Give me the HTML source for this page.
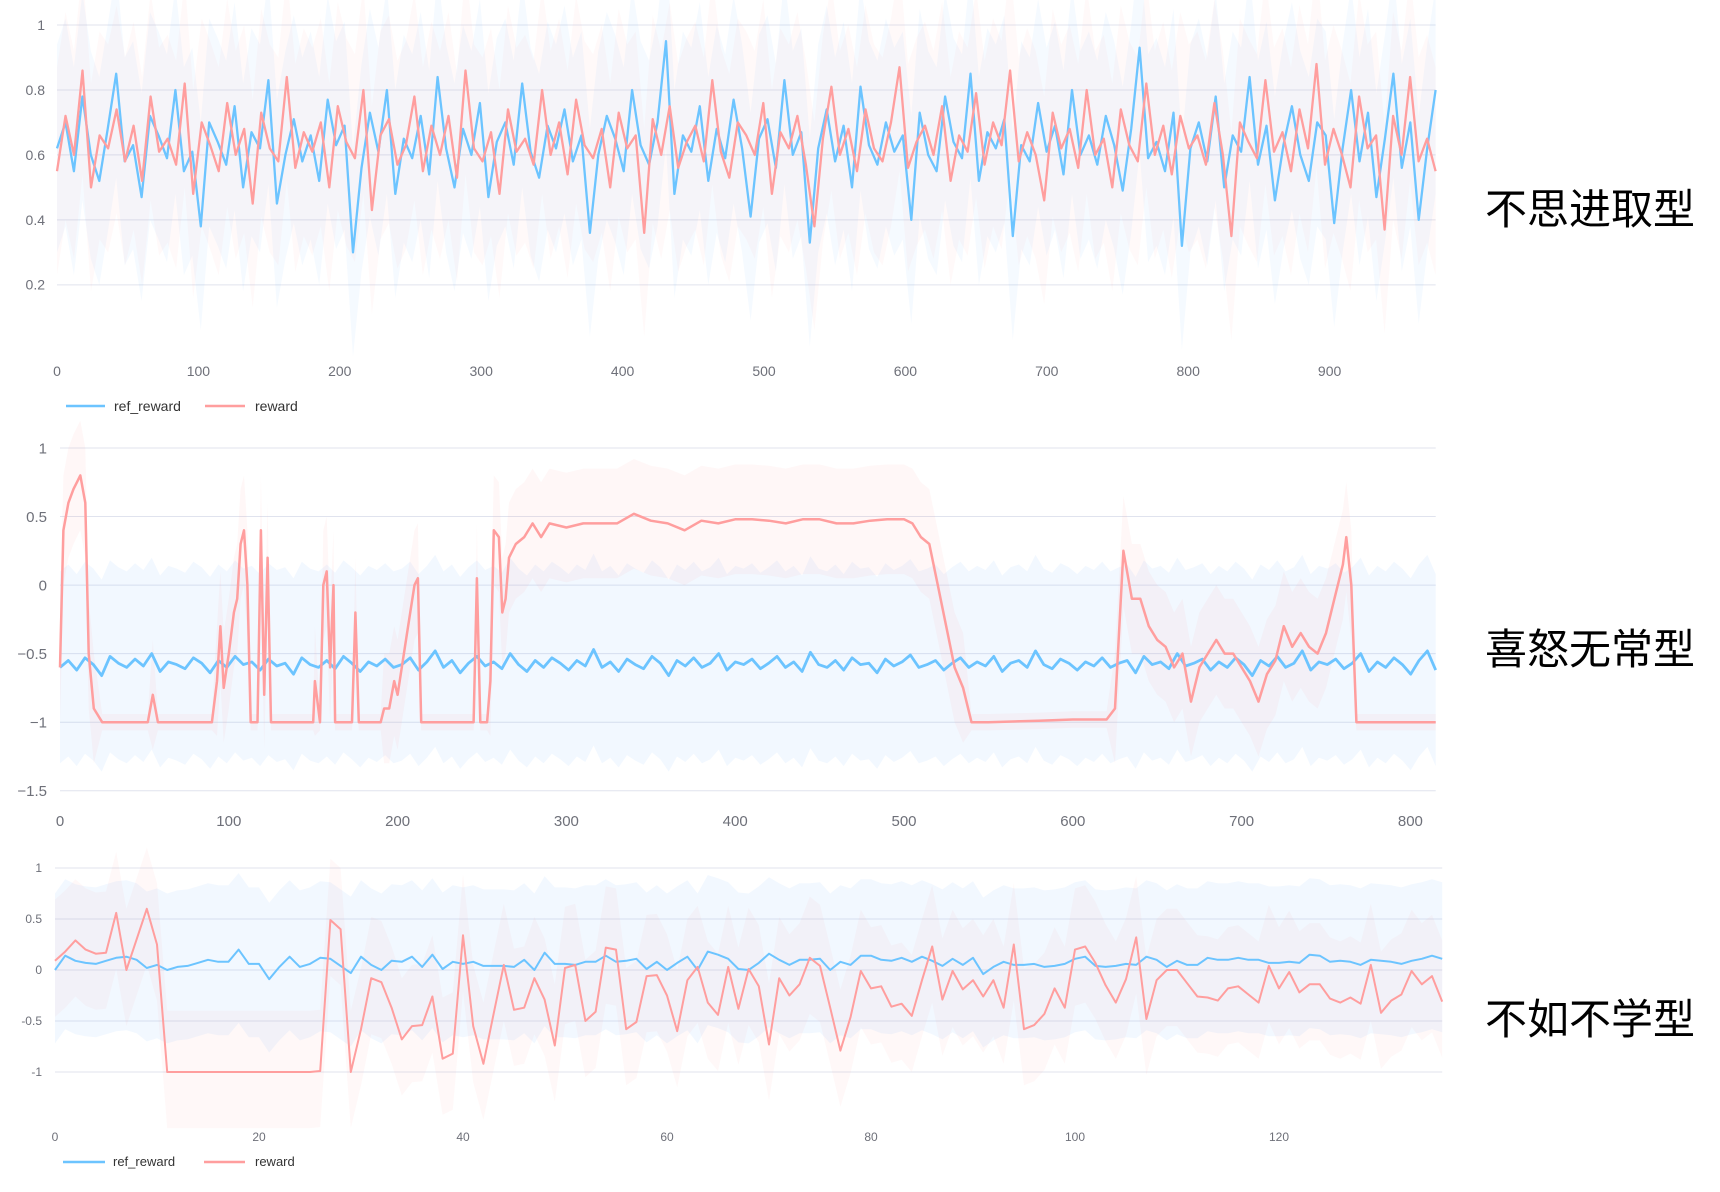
<!DOCTYPE html>
<html><head><meta charset="utf-8"><style>
html,body{margin:0;padding:0;background:#fff;}
svg{display:block;}
.tick{font-family:"Liberation Sans",sans-serif;fill:#6e7079;}
.side{font-family:"Liberation Sans","WenQuanYi Zen Hei","Noto Sans CJK SC",sans-serif;font-size:42px;fill:#000;}
.leg{font-family:"Liberation Sans",sans-serif;fill:#333;}
</style></head><body>
<svg id="root" width="1720" height="1192" viewBox="0 0 1720 1192" xmlns="http://www.w3.org/2000/svg">
<g id="c1"></g>
<g id="c2"></g>
<g id="c3"></g>
<text class="side" x="1485" y="224">不思进取型</text>
<text class="side" x="1485" y="664">喜怒无常型</text>
<text class="side" x="1485" y="1034">不如不学型</text>
<g>
<line x1="66" y1="406" x2="105" y2="406" stroke="#6cc4ff" stroke-width="2.5"/>
<text class="leg" x="114" y="411" font-size="14">ref_reward</text>
<line x1="205" y1="406" x2="245" y2="406" stroke="#ff9e9e" stroke-width="2.5"/>
<text class="leg" x="255" y="411" font-size="14">reward</text>
</g>
<g>
<line x1="63" y1="1162" x2="105" y2="1162" stroke="#6cc4ff" stroke-width="2.5"/>
<text class="leg" x="113" y="1166" font-size="13">ref_reward</text>
<line x1="204" y1="1162" x2="245" y2="1162" stroke="#ff9e9e" stroke-width="2.5"/>
<text class="leg" x="255" y="1166" font-size="13">reward</text>
</g>
</svg>
<script>
// ---- Chart 1 data (不思进取型) ----
const c1XMax = 975;
const c1YTicks = [1, 0.8, 0.6, 0.4, 0.2];
const c1YTickLabels = ["1", "0.8", "0.6", "0.4", "0.2"];
const c1XTicks = [0,100,200,300,400,500,600,700,800,900];
const c1Ref = [0.62,0.7,0.55,0.78,0.6,0.52,0.68,0.85,0.58,0.63,0.47,0.72,0.66,0.59,0.8,0.55,0.61,0.38,0.7,0.64,0.57,0.75,0.5,0.67,0.62,0.83,0.45,0.6,0.71,0.58,0.66,0.52,0.77,0.63,0.69,0.3,0.56,0.73,0.61,0.8,0.48,0.65,0.59,0.72,0.54,0.84,0.62,0.5,0.68,0.6,0.76,0.47,0.64,0.7,0.57,0.82,0.61,0.53,0.69,0.62,0.74,0.58,0.66,0.36,0.6,0.72,0.65,0.55,0.8,0.63,0.57,0.7,0.95,0.48,0.66,0.61,0.75,0.52,0.68,0.59,0.77,0.62,0.41,0.65,0.71,0.56,0.83,0.6,0.67,0.33,0.62,0.74,0.58,0.69,0.5,0.81,0.63,0.57,0.7,0.61,0.66,0.4,0.73,0.6,0.55,0.78,0.64,0.59,0.85,0.52,0.67,0.62,0.71,0.35,0.63,0.58,0.76,0.61,0.69,0.54,0.8,0.6,0.66,0.57,0.72,0.63,0.49,0.68,0.93,0.59,0.64,0.55,0.73,0.32,0.62,0.7,0.58,0.78,0.5,0.66,0.61,0.84,0.57,0.69,0.46,0.63,0.75,0.6,0.52,0.7,0.66,0.39,0.62,0.8,0.58,0.73,0.47,0.65,0.85,0.56,0.7,0.4,0.62,0.8];
const c1Reward = [0.55,0.72,0.6,0.86,0.5,0.66,0.62,0.74,0.58,0.69,0.52,0.78,0.61,0.65,0.57,0.82,0.48,0.7,0.63,0.55,0.76,0.6,0.68,0.45,0.73,0.62,0.58,0.84,0.56,0.67,0.61,0.7,0.5,0.75,0.64,0.59,0.8,0.43,0.66,0.71,0.57,0.63,0.78,0.55,0.69,0.6,0.72,0.53,0.86,0.62,0.58,0.67,0.48,0.74,0.61,0.65,0.57,0.8,0.6,0.7,0.54,0.77,0.63,0.59,0.68,0.5,0.73,0.62,0.66,0.36,0.71,0.6,0.75,0.56,0.64,0.69,0.58,0.83,0.61,0.53,0.7,0.66,0.6,0.76,0.48,0.67,0.62,0.72,0.57,0.38,0.65,0.81,0.6,0.68,0.55,0.74,0.62,0.58,0.7,0.87,0.56,0.64,0.69,0.6,0.75,0.52,0.66,0.61,0.79,0.57,0.7,0.63,0.86,0.58,0.67,0.6,0.46,0.73,0.62,0.68,0.56,0.8,0.6,0.65,0.5,0.74,0.63,0.58,0.82,0.6,0.69,0.54,0.72,0.62,0.66,0.57,0.76,0.6,0.35,0.7,0.64,0.59,0.83,0.61,0.67,0.55,0.74,0.62,0.88,0.57,0.68,0.6,0.5,0.78,0.62,0.66,0.37,0.72,0.6,0.84,0.58,0.65,0.55];

// ---- Chart 2 data (喜怒无常型) ----
const c2XMax = 815;
const c2YTicks = [1, 0.5, 0, -0.5, -1, -1.5];
const c2YTickLabels = ["1", "0.5", "0", "−0.5", "−1", "−1.5"];
const c2XTicks = [0,100,200,300,400,500,600,700,800];
const c2Ref = [-0.6,-0.55,-0.62,-0.53,-0.58,-0.66,-0.52,-0.57,-0.6,-0.54,-0.59,-0.5,-0.63,-0.56,-0.58,-0.61,-0.53,-0.57,-0.64,-0.55,-0.6,-0.52,-0.58,-0.56,-0.62,-0.54,-0.59,-0.57,-0.65,-0.53,-0.58,-0.6,-0.55,-0.61,-0.52,-0.57,-0.63,-0.56,-0.59,-0.54,-0.6,-0.58,-0.53,-0.62,-0.56,-0.48,-0.6,-0.55,-0.64,-0.57,-0.52,-0.59,-0.56,-0.61,-0.5,-0.58,-0.63,-0.55,-0.6,-0.53,-0.57,-0.62,-0.55,-0.59,-0.47,-0.6,-0.56,-0.63,-0.54,-0.58,-0.61,-0.52,-0.57,-0.66,-0.55,-0.59,-0.53,-0.6,-0.57,-0.5,-0.62,-0.56,-0.58,-0.54,-0.61,-0.57,-0.52,-0.6,-0.56,-0.63,-0.49,-0.58,-0.6,-0.55,-0.62,-0.53,-0.58,-0.57,-0.64,-0.54,-0.59,-0.56,-0.51,-0.6,-0.58,-0.55,-0.62,-0.57,-0.53,-0.6,-0.56,-0.59,-0.52,-0.63,-0.57,-0.55,-0.6,-0.48,-0.58,-0.61,-0.54,-0.57,-0.62,-0.56,-0.59,-0.53,-0.6,-0.57,-0.55,-0.64,-0.52,-0.58,-0.56,-0.61,-0.5,-0.59,-0.57,-0.54,-0.62,-0.56,-0.6,-0.53,-0.58,-0.66,-0.55,-0.59,-0.52,-0.6,-0.57,-0.48,-0.62,-0.56,-0.58,-0.54,-0.61,-0.57,-0.5,-0.63,-0.56,-0.6,-0.53,-0.58,-0.65,-0.55,-0.48,-0.62];
const c2RewardSteps = [0,2,5,8,10,12,15,17,20,25,50,52,55,58,90,93,95,97,100,103,105,107,109,111,113,117,119,121,123,125,150,151,154,156,158,160,162,163,173,175,177,190,192,195,198,200,205,210,212,214,245,247,249,253,255,257,260,262,264,266,270,275,280,285,290,300,310,320,330,340,350,360,370,380,390,400,410,420,430,440,450,460,470,480,490,500,505,510,515,520,525,530,535,540,550,580,600,620,625,630,635,640,645,650,655,660,665,670,675,680,685,690,695,700,705,710,715,720,725,730,735,740,745,750,755,760,762,765,768,815];
const c2Reward = [-0.6,0.4,0.6,0.7,0.75,0.8,0.6,-0.5,-0.9,-1,-1,-1,-0.8,-1,-1,-0.7,-0.3,-0.75,-0.5,-0.2,-0.1,0.3,0.4,0.0,-1,-1,0.4,-0.8,0.2,-1,-1,-0.7,-1,0.0,0.1,-0.6,0.0,-1,-1,-0.2,-1,-1,-0.9,-0.9,-0.7,-0.8,-0.4,0.0,0.05,-1,-1,0.05,-1,-1,-0.7,0.4,0.35,-0.2,-0.1,0.2,0.3,0.35,0.45,0.35,0.45,0.42,0.45,0.45,0.45,0.52,0.47,0.45,0.4,0.47,0.45,0.48,0.48,0.47,0.45,0.48,0.48,0.45,0.45,0.47,0.48,0.48,0.45,0.35,0.3,0.0,-0.3,-0.6,-0.75,-1.0,-1.0,-0.99,-0.98,-0.98,-0.9,0.25,-0.1,-0.1,-0.3,-0.4,-0.45,-0.6,-0.5,-0.85,-0.6,-0.5,-0.4,-0.5,-0.5,-0.6,-0.7,-0.85,-0.65,-0.55,-0.3,-0.45,-0.35,-0.45,-0.5,-0.35,-0.1,0.15,0.35,0.0,-1,-1];

// ---- Chart 3 data (不如不学型) ----
const c3YTicks = [1, 0.5, 0, -0.5, -1];
const c3YTickLabels = ["1", "0.5", "0", "-0.5", "-1"];
const c3XTicks = [0,20,40,60,80,100,120];
const c3Ref = [0.00,0.14,0.09,0.07,0.06,0.09,0.12,0.13,0.10,0.02,0.05,0.00,0.03,0.04,0.07,0.10,0.08,0.08,0.20,0.06,0.06,-0.09,0.03,0.13,0.03,0.06,0.12,0.11,0.04,-0.03,0.13,0.05,0.00,0.09,0.08,0.13,0.03,0.15,0.01,0.08,0.06,0.08,0.04,0.04,0.04,0.03,0.10,0.00,0.17,0.06,0.06,0.05,0.08,0.08,0.14,0.08,0.09,0.11,0.01,0.08,0.00,0.07,0.13,0.00,0.18,0.15,0.11,0.01,0.00,0.07,0.16,0.10,0.05,0.10,0.10,0.11,0.00,0.08,0.05,0.14,0.14,0.10,0.09,0.12,0.08,0.13,0.09,0.04,0.11,0.05,0.12,-0.04,0.03,0.08,0.05,0.05,0.06,0.03,0.04,0.06,0.11,0.13,0.04,0.03,0.04,0.06,0.05,0.13,0.10,0.03,0.09,0.05,0.05,0.12,0.10,0.10,0.12,0.10,0.10,0.07,0.07,0.08,0.07,0.15,0.14,0.08,0.09,0.08,0.05,0.10,0.09,0.08,0.06,0.09,0.11,0.14,0.11];
const c3Reward = [0.09,0.18,0.29,0.20,0.16,0.17,0.56,0.00,0.30,0.60,0.25,-1,-1,-1,-1,-1,-1,-1,-1,-1,-1,-1,-1,-1,-1,-1,-0.99,0.49,0.40,-1.0,-0.58,-0.08,-0.12,-0.37,-0.68,-0.55,-0.54,-0.26,-0.87,-0.82,0.34,-0.55,-0.92,-0.43,0.05,-0.39,-0.37,-0.08,-0.29,-0.74,0.02,0.05,-0.50,-0.41,0.22,0.20,-0.58,-0.51,-0.06,-0.05,-0.25,-0.60,-0.10,0.03,-0.32,-0.44,0.03,-0.38,0.01,-0.16,-0.73,-0.08,-0.25,-0.14,0.12,0.04,-0.37,-0.79,-0.46,-0.01,-0.18,-0.16,-0.36,-0.33,-0.45,-0.10,0.23,-0.29,-0.01,-0.19,-0.10,-0.26,-0.10,-0.37,0.25,-0.58,-0.54,-0.43,-0.18,-0.37,0.20,0.23,0.07,-0.15,-0.32,-0.09,0.32,-0.48,-0.10,0.00,0.00,-0.13,-0.26,-0.27,-0.30,-0.18,-0.16,-0.24,-0.32,0.04,-0.18,-0.02,-0.22,-0.14,-0.14,-0.28,-0.32,-0.27,-0.33,0.05,-0.42,-0.30,-0.24,-0.01,-0.14,-0.06,-0.31];

const NS = "http://www.w3.org/2000/svg";
const BLUE = "#6cc4ff", RED = "#ff9e9e";

function mk(tag, parent) { const e = document.createElementNS(NS, tag); parent.appendChild(e); return e; }

function linePath(xs, ys, sx, sy) {
  let d = "";
  for (let i = 0; i < xs.length; i++) d += (i ? "L" : "M") + sx(xs[i]).toFixed(1) + "," + sy(ys[i]).toFixed(1);
  return d;
}
function bandPath(xs, lo, hi, sx, sy) {
  let d = "";
  for (let i = 0; i < xs.length; i++) d += (i ? "L" : "M") + sx(xs[i]).toFixed(1) + "," + sy(hi[i]).toFixed(1);
  for (let i = xs.length - 1; i >= 0; i--) d += "L" + sx(xs[i]).toFixed(1) + "," + sy(lo[i]).toFixed(1);
  return d + "Z";
}

function drawChart(g, cfg) {
  const sx = v => cfg.x0 + (v - cfg.xmin) * cfg.xs;
  const sy = v => cfg.yTop + (cfg.yTopVal - v) * cfg.ys;
  const xEnd = sx(cfg.xmax);
  cfg.yTicks.forEach((t, i) => {
    const ln = mk("line", g);
    
    
    ln.setAttribute("x1", cfg.x0); ln.setAttribute("x2", xEnd);
    ln.setAttribute("y1", sy(t)); ln.setAttribute("y2", sy(t));
    ln.setAttribute("stroke", "#e0e3ee"); ln.setAttribute("stroke-width", "1");
    const tx = mk("text", g);
    
    
    tx.setAttribute("class", "tick"); tx.setAttribute("font-size", cfg.fs);
    tx.setAttribute("x", cfg.yLabelX); tx.setAttribute("y", sy(t) + cfg.fs * 0.35);
    tx.setAttribute("text-anchor", "end");
    tx.textContent = cfg.yTickLabels[i];
  });
  cfg.xTicks.forEach(t => {
    const tx = mk("text", g);
    
    
    tx.setAttribute("class", "tick"); tx.setAttribute("font-size", cfg.fs);
    tx.setAttribute("x", sx(t)); tx.setAttribute("y", cfg.xLabelY);
    tx.setAttribute("text-anchor", "middle");
    tx.textContent = String(t);
  });
  cfg.series.forEach(s => {
    if (s.lo) {
      const b = mk("path", g);
      
      
      b.setAttribute("d", bandPath(s.x, s.lo, s.hi, sx, sy));
      b.setAttribute("fill", s.bandFill);
    }
  });
  cfg.series.forEach(s => {
    const p = mk("path", g);
    
    
    p.setAttribute("d", linePath(s.x, s.y, sx, sy));
    p.setAttribute("fill", "none"); p.setAttribute("stroke", s.color);
    p.setAttribute("stroke-width", s.w); p.setAttribute("stroke-linejoin", "round");
  });
}

function idxX(arr, max) { return arr.map((_, i) => i * max / (arr.length - 1)); }
function shift(arr, d) { return arr.map(v => v + d); }

// Chart 1
(function(){
  const xr = idxX(c1Ref, c1XMax), xw = idxX(c1Reward, c1XMax);
  drawChart(document.getElementById("c1"), {
    x0: 57, xmin: 0, xmax: c1XMax, xs: 1.414, yTop: 25, yTopVal: 1, ys: 324.8,
    yTicks: c1YTicks, yTickLabels: c1YTickLabels, xTicks: c1XTicks,
    yLabelX: 45, xLabelY: 376, fs: 14,
    series: [
      {name: "ref-reward", x: xr, y: c1Ref, lo: shift(c1Ref, -0.32), hi: shift(c1Ref, 0.32), bandFill: "rgba(108,180,255,0.07)", color: BLUE, w: 2.3},
      {name: "reward", x: xw, y: c1Reward, lo: shift(c1Reward, -0.32), hi: shift(c1Reward, 0.32), bandFill: "rgba(255,150,150,0.06)", color: RED, w: 2.3}
    ]
  });
})();

// Chart 2
(function(){
  const xr = idxX(c2Ref, c2XMax);
  const spread = c2Reward.map(v => v > -0.95 ? 0.4 : 0.06);
  drawChart(document.getElementById("c2"), {
    x0: 60, xmin: 0, xmax: c2XMax, xs: 1.688, yTop: 448, yTopVal: 1, ys: 137.1,
    yTicks: c2YTicks, yTickLabels: c2YTickLabels, xTicks: c2XTicks,
    yLabelX: 47, xLabelY: 826, fs: 15,
    series: [
      {name: "ref-reward", x: xr, y: c2Ref, lo: shift(c2Ref, -0.7), hi: shift(c2Ref, 0.7), bandFill: "rgba(108,180,255,0.09)", color: BLUE, w: 2.8},
      {name: "reward", x: c2RewardSteps, y: c2Reward, lo: c2Reward.map((v,i)=>v-spread[i]), hi: c2Reward.map((v,i)=>v+spread[i]), bandFill: "rgba(255,150,150,0.08)", color: RED, w: 2.5}
    ]
  });
})();

// Chart 3
(function(){
  const xr = c3Ref.map((_, i) => i), xw = c3Reward.map((_, i) => i);
  drawChart(document.getElementById("c3"), {
    x0: 55, xmin: 0, xmax: 136, xs: 10.2, yTop: 868, yTopVal: 1, ys: 102,
    yTicks: c3YTicks, yTickLabels: c3YTickLabels, xTicks: c3XTicks,
    yLabelX: 42, xLabelY: 1141, fs: 12,
    series: [
      {name: "ref-reward", x: xr, y: c3Ref, lo: shift(c3Ref, -0.72), hi: shift(c3Ref, 0.75), bandFill: "rgba(108,180,255,0.09)", color: BLUE, w: 2},
      {name: "reward", x: xw, y: c3Reward, lo: shift(c3Reward, -0.55), hi: shift(c3Reward, 0.6), bandFill: "rgba(255,150,150,0.07)", color: RED, w: 2}
    ]
  });
})();
</script>
</body></html>
